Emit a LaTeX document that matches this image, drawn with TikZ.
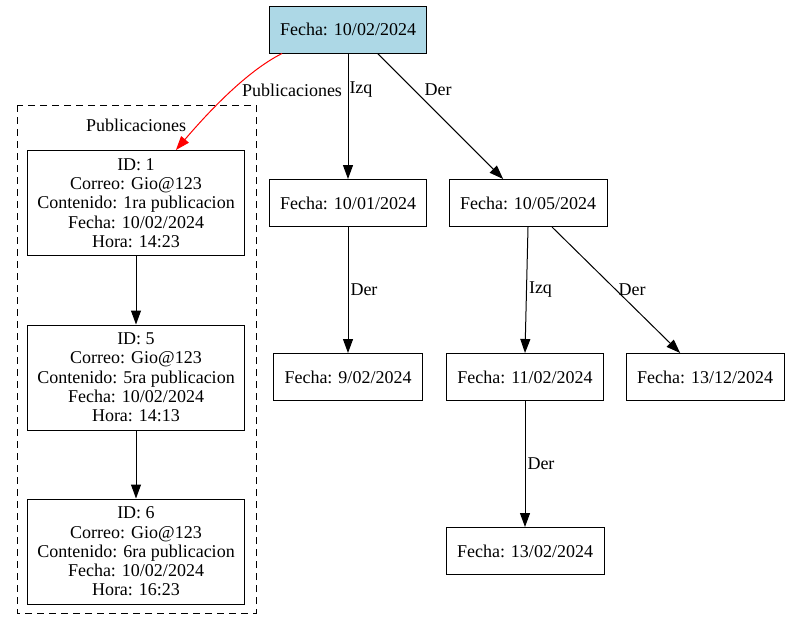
\documentclass[tikz,border=0pt]{standalone}
\usepackage{fontspec}
\setmainfont{Liberation Serif}
\usepackage{xcolor}
\usetikzlibrary{arrows.meta}
\definecolor{Ink}{HTML}{000000}
\definecolor{RootFill}{HTML}{ADD8E6}
\definecolor{PubRed}{HTML}{FF0000}
\tikzset{
  datebox/.style={draw=Ink, line width=1pt, rectangle, inner xsep=11pt, minimum height=47pt},
  pubbox/.style={draw=Ink, line width=1pt, rectangle, align=center, minimum width=217pt, minimum height=105pt},
  link/.style={draw=Ink, line width=1pt, -{Triangle[length=14pt,width=10pt]}},
  lbl/.style={inner sep=2pt}
}
\begin{document}
\begin{tikzpicture}[x=1pt, y=-1pt, font=\fontsize{18}{19.3}\selectfont]
        \useasboundingbox (0,0) rectangle (789,630);
        \draw[Ink, line width=1pt, dash pattern=on 7pt off 5pt] (17,105) rectangle (256,613);
        \node (pubtitle) at (136,125) {Publicaciones};
        \node[datebox, fill=RootFill] (root) at (348,29.5) {Fecha: 10/02/2024};
        \node[datebox] (d1001) at (348,203) {Fecha: 10/01/2024};
        \node[datebox] (d1005) at (528,203) {Fecha: 10/05/2024};
        \node[datebox] (d0902) at (348,377) {Fecha: 9/02/2024};
        \node[datebox] (d1102) at (525,377) {Fecha: 11/02/2024};
        \node[datebox] (d1312) at (705,377) {Fecha: 13/12/2024};
        \node[datebox] (d1302) at (525,551) {Fecha: 13/02/2024};
        \node[pubbox] (pub1) at (136,203) {ID: 1\\Correo: Gio@123\\Contenido: 1ra publicacion\\Fecha: 10/02/2024\\Hora: 14:23};
        \node[pubbox] (pub5) at (136,377.5) {ID: 5\\Correo: Gio@123\\Contenido: 5ra publicacion\\Fecha: 10/02/2024\\Hora: 14:13};
        \node[pubbox] (pub6) at (136,551.5) {ID: 6\\Correo: Gio@123\\Contenido: 6ra publicacion\\Fecha: 10/02/2024\\Hora: 16:23};
        \draw[link, draw=PubRed, -{Triangle[length=14pt,width=10pt,fill=PubRed]}] (root.200) .. controls (245,72) and (205,116) .. (pub1.53)
          node[lbl, pos=0.45, anchor=west, xshift=8pt, text=Ink] {Publicaciones};
        \draw[link] (root.south) -- (d1001.north) node[lbl, pos=0.29, anchor=west, xshift=-1pt] {Izq};
        \draw[link] (root.321) -- (d1005.136) node[lbl, pos=0.29, anchor=west, xshift=8pt] {Der};
        \draw[link] (d1001.south) -- (d0902.north) node[lbl, midway, anchor=west] {Der};
        \draw[link] (d1005.south) -- (d1102.north) node[lbl, midway, anchor=west] {Izq};
        \draw[link] (d1005.315) -- (d1312.136) node[lbl, midway, anchor=west] {Der};
        \draw[link] (d1102.south) -- (d1302.north) node[lbl, midway, anchor=west] {Der};
        \draw[link] (pub1.south) -- (pub5.north);
        \draw[link] (pub5.south) -- (pub6.north);
      \end{tikzpicture}
\end{document}
